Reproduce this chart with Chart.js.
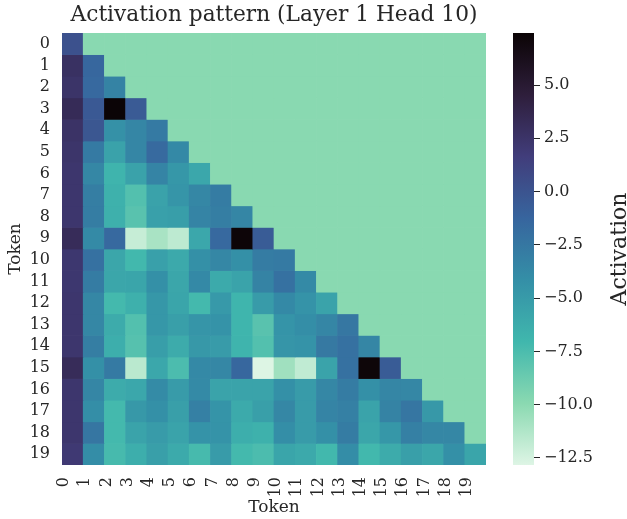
<!DOCTYPE html>
<html lang="en">
<head>
<meta charset="UTF-8">
<title>Activation pattern (Layer 1 Head 10)</title>
<style>
  html, body { margin: 0; padding: 0; background: #fff; }
  .figure { position: relative; width: 627px; height: 519px; }
  #heatmap { position: absolute; left: 0; top: 0; }
  #colorbar { position: absolute; left: 500px; top: 0; }
</style>
</head>
<body>
<div class="figure">
  <canvas id="heatmap" width="500" height="519"></canvas>
  <canvas id="colorbar" width="127" height="519"></canvas>
</div>
<script src="https://cdn.jsdelivr.net/npm/chart.js"></script>
<script>
// token labels on both axes
const tokens = ['0', '1', '2', '3', '4', '5', '6', '7', '8', '9',
                '10', '11', '12', '13', '14', '15', '16', '17', '18', '19'];

// lower-triangular activations, one row per query token
const activation = [
  [0.2],
  [2.8, -1.4],
  [2.5, -1.5, -3.3],
  [3.3, -0.4, 7.4, -0.5],
  [2.6, -0.2, -4.3, -3.5, -2.7],
  [2.4, -2.7, -5.5, -3.5, -1.6, -3.7],
  [2.3, -3.6, -6.8, -5.5, -3.4, -4.7, -5.9],
  [2.3, -3.0, -6.6, -7.8, -5.5, -4.6, -3.6, -2.8],
  [2.3, -2.9, -6.5, -8.0, -5.4, -5.2, -3.4, -3.0, -3.5],
  [3.2, -3.8, -1.5, -12.0, -11.0, -11.7, -5.9, -1.5, 7.3, -0.6],
  [2.2, -2.1, -5.8, -7.1, -5.4, -6.0, -4.2, -3.6, -4.2, -2.8, -2.7],
  [2.2, -2.8, -5.8, -5.7, -4.2, -5.8, -3.7, -6.1, -5.6, -3.3, -2.1, -3.8],
  [2.3, -3.6, -7.2, -6.5, -4.7, -5.7, -7.2, -4.9, -6.9, -5.0, -3.7, -4.4, -5.6],
  [2.3, -3.6, -6.2, -7.8, -4.7, -5.3, -4.6, -4.4, -6.9, -8.0, -4.5, -4.1, -3.5, -2.5],
  [2.3, -3.0, -6.4, -7.9, -5.2, -6.2, -4.8, -5.0, -6.8, -7.8, -4.6, -4.4, -2.6, -2.1, -3.5],
  [3.2, -4.2, -2.7, -11.6, -5.9, -7.5, -3.7, -3.6, -1.4, -12.8, -10.7, -11.8, -5.6, -2.1, 7.2, -0.6],
  [2.3, -3.5, -6.2, -5.9, -3.9, -5.0, -3.8, -5.6, -5.6, -5.6, -4.2, -5.0, -3.6, -2.8, -4.2, -3.5, -3.6],
  [2.3, -4.1, -7.2, -4.8, -4.2, -5.3, -3.1, -4.5, -6.1, -5.3, -3.6, -5.0, -3.4, -3.1, -5.6, -3.3, -2.4, -4.8],
  [2.3, -2.4, -7.2, -5.6, -5.0, -5.6, -4.4, -4.4, -6.4, -6.6, -4.1, -5.0, -4.2, -2.8, -5.8, -4.7, -3.1, -3.6, -3.6],
  [2.0, -4.0, -7.3, -6.4, -5.3, -6.1, -7.3, -5.0, -7.2, -7.5, -5.7, -6.0, -7.1, -4.0, -7.1, -6.2, -5.3, -5.8, -4.2, -5.7]
];

// value shown in the masked (future) positions
const maskValue = -9.9;

// colour range and colorbar ticks
const vmin = -12.83;
const vmax = 7.44;
const colorbarTicks = [-12.5, -10, -7.5, -5, -2.5, 0, 2.5, 5];

const textColor = '#262626';
const serif = 'DejaVu Serif';

// mako colormap, dark to light; used reversed (high values dark)
const makoStops = [
  [0.0, [11, 4, 5]],
  [1 / 7, [46, 30, 59]],
  [2 / 7, [65, 61, 123]],
  [3 / 7, [55, 101, 158]],
  [4 / 7, [52, 143, 167]],
  [5 / 7, [64, 183, 173]],
  [6 / 7, [138, 217, 177]],
  [1.0, [222, 245, 229]]
];

function makoAt(p) {
  p = Math.min(1, Math.max(0, p));
  for (let i = 1; i < makoStops.length; i++) {
    const [p1, c1] = makoStops[i];
    const [p0, c0] = makoStops[i - 1];
    if (p <= p1) {
      const f = (p - p0) / (p1 - p0);
      const c = c0.map((v, k) => Math.round(v + (c1[k] - v) * f));
      return `rgb(${c[0]},${c[1]},${c[2]})`;
    }
  }
  return 'rgb(222,245,229)';
}

function colorFor(v) {
  return makoAt(1 - (v - vmin) / (vmax - vmin));
}

// one dataset per row; each cell is a floating bar spanning [row, row + 1]
const datasets = tokens.map((_, r) => ({
  data: tokens.map((_, c) => ({ x: c + 0.5, y: [r, r + 1] })),
  backgroundColor: tokens.map((_, c) => colorFor(c <= r ? activation[r][c] : maskValue)),
  borderWidth: 0,
  grouped: false,
  categoryPercentage: 1,
  barPercentage: 1
}));

new Chart(document.getElementById('heatmap'), {
  type: 'bar',
  data: { datasets },
  options: {
    responsive: false,
    animation: false,
    devicePixelRatio: 1,
    layout: { padding: { left: 0, right: 14, top: 0, bottom: 0 } },
    plugins: {
      legend: { display: false },
      tooltip: { enabled: false },
      title: {
        display: true,
        text: 'Activation pattern (Layer 1 Head 10)',
        fullSize: false,
        color: textColor,
        font: { family: serif, size: 21.7, weight: 'normal' },
        padding: { top: 2, bottom: 5 }
      }
    },
    scales: {
      x: {
        type: 'linear',
        min: 0,
        max: 20,
        offset: false,
        afterFit: s => { s.height = 54; s.paddingLeft = 0; s.paddingRight = 0; },
        afterBuildTicks: s => { s.ticks = tokens.map((_, i) => ({ value: i })); },
        grid: { display: false, drawTicks: false, offset: false },
        border: { display: false },
        ticks: {
          autoSkip: false,
          minRotation: 90,
          maxRotation: 90,
          padding: 12,
          labelOffset: 2,
          color: textColor,
          font: { family: serif, size: 16 },
          callback: (v, i) => tokens[i]
        },
        title: {
          display: true,
          text: 'Token',
          color: textColor,
          font: { family: serif, size: 17 },
          padding: { top: 0, bottom: 1 }
        }
      },
      y: {
        type: 'linear',
        min: 0,
        max: 20,
        reverse: true,
        offset: false,
        afterFit: s => { s.width = 62; s.paddingTop = 0; s.paddingBottom = 0; },
        afterBuildTicks: s => { s.ticks = tokens.map((_, i) => ({ value: i + 0.5 })); },
        grid: { display: false, drawTicks: false },
        border: { display: false },
        ticks: {
          autoSkip: false,
          padding: 12,
          color: textColor,
          font: { family: serif, size: 16 },
          callback: (v, i) => tokens[i]
        },
        title: {
          display: true,
          text: 'Token',
          color: textColor,
          font: { family: serif, size: 17 },
          padding: { top: 5, bottom: 0 }
        }
      }
    }
  }
});

// colorbar: a single floating bar filled with the colormap gradient
let cbGradient = null;
function colorbarFill(ctx) {
  const area = ctx.chart.chartArea;
  if (!area) return colorFor(0);
  if (!cbGradient) {
    cbGradient = ctx.chart.ctx.createLinearGradient(0, area.top, 0, area.bottom);
    makoStops.forEach(([p, c]) => cbGradient.addColorStop(p, `rgb(${c[0]},${c[1]},${c[2]})`));
  }
  return cbGradient;
}

const colorbarLabel = {
  id: 'colorbarLabel',
  afterDraw(chart) {
    const ctx = chart.ctx;
    ctx.save();
    ctx.translate(120, (chart.chartArea.top + chart.chartArea.bottom) / 2);
    ctx.rotate(-Math.PI / 2);
    ctx.fillStyle = textColor;
    ctx.font = `22px "${serif}"`;
    ctx.textAlign = 'center';
    ctx.textBaseline = 'middle';
    ctx.fillText('Activation', 0, 0);
    ctx.restore();
  }
};

const fmtTick = v => (v < 0 ? '\u2212' : '') + Math.abs(v).toFixed(1);

new Chart(document.getElementById('colorbar'), {
  type: 'bar',
  data: {
    labels: ['Activation'],
    datasets: [{
      data: [[vmin, vmax]],
      backgroundColor: colorbarFill,
      borderWidth: 0,
      categoryPercentage: 1,
      barPercentage: 1
    }]
  },
  options: {
    responsive: false,
    animation: false,
    devicePixelRatio: 1,
    layout: { padding: { left: 13, top: 33, bottom: 54, right: 0 } },
    plugins: { legend: { display: false }, tooltip: { enabled: false } },
    scales: {
      x: { display: false },
      y: {
        position: 'right',
        min: vmin,
        max: vmax,
        afterFit: s => { s.width = 93; s.paddingTop = 0; s.paddingBottom = 0; },
        afterBuildTicks: s => { s.ticks = colorbarTicks.map(v => ({ value: v })); },
        grid: { drawOnChartArea: false, drawTicks: true, tickLength: 6, color: textColor, lineWidth: 1 },
        border: { display: false },
        ticks: {
          padding: 4,
          color: textColor,
          font: { family: serif, size: 16 },
          callback: v => fmtTick(v)
        }
      }
    }
  },
  plugins: [colorbarLabel]
});
</script>
</body>
</html>
